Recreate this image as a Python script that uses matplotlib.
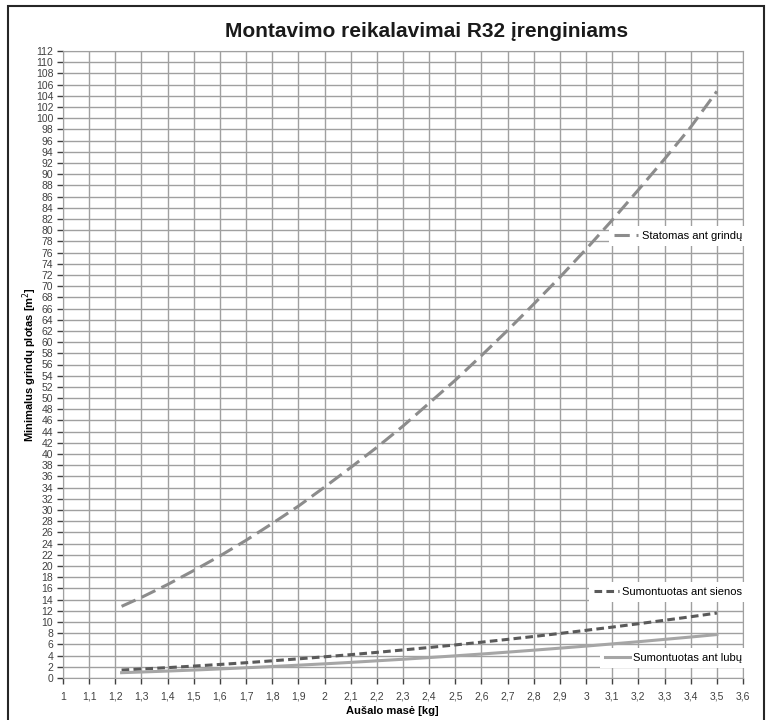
import matplotlib.pyplot as plt
from matplotlib.patches import Rectangle

plt.rcParams['font.family'] = ['Liberation Sans', 'DejaVu Sans']

# Duomenys (nuskaityta nuo grafiko)
mase = [1.224, 1.3, 1.4, 1.5, 1.6, 1.7, 1.8, 1.9, 2.0, 2.1, 2.2, 2.3,
        2.4, 2.5, 2.6, 2.7, 2.8, 2.9, 3.0, 3.1, 3.2, 3.3, 3.4, 3.5]
grindys = [12.8, 14.4, 16.7, 19.2, 21.8, 24.6, 27.6, 30.7, 34.1, 37.6, 41.2, 45.0,
           49.1, 53.2, 57.6, 62.1, 66.8, 71.6, 76.6, 81.8, 87.2, 92.7, 98.4, 104.8]
siena = [1.42, 1.60, 1.85, 2.13, 2.42, 2.73, 3.07, 3.42, 3.79, 4.17, 4.58, 5.01,
         5.45, 5.91, 6.40, 6.90, 7.42, 7.96, 8.52, 9.09, 9.69, 10.31, 10.94, 11.6]
lubos = [0.95, 1.07, 1.24, 1.42, 1.62, 1.83, 2.05, 2.29, 2.53, 2.79, 3.07, 3.35,
         3.65, 3.96, 4.28, 4.62, 4.97, 5.33, 5.70, 6.09, 6.48, 6.90, 7.32, 7.76]

x_ticks = [1 + i / 10 for i in range(27)]
y_ticks = list(range(0, 113, 2))

fig = plt.figure(figsize=(7.73, 7.2), dpi=100)
ax = fig.add_axes([63 / 773, 1 - 678 / 720, 680 / 773, 627 / 720])

# isorinis remelis (apacia nukirpta kaip originale)
fig.patches.append(Rectangle((8 / 773, -0.02), 756 / 773, 1.012,
                             transform=fig.transFigure, fill=False,
                             edgecolor='#262626', linewidth=1.5))

l1, = ax.plot(mase, grindys, color='#8c8c8c', lw=2.2, dashes=(5, 2.2),
              label='Statomas ant grindų')
l2, = ax.plot(mase, siena, color='#5a5a5a', lw=2.2, dashes=(2.5, 1.4),
              label='Sumontuotas ant sienos')
l3, = ax.plot(mase, lubos, color='#a6a6a6', lw=2.2,
              label='Sumontuotas ant lubų')

ax.set_xlim(1, 3.6)
ax.set_ylim(0, 112)
ax.set_xticks(x_ticks)
ax.set_xticklabels([('%g' % t).replace('.', ',') for t in x_ticks])
ax.set_yticks(y_ticks)
ax.tick_params(labelsize=7.5, colors='#404040', length=4, width=1, pad=3)
ax.tick_params(axis='x', pad=6)
ax.grid(True, color='#a0a0a0', linewidth=1)
ax.set_axisbelow(True)
for s in ax.spines.values():
    s.set_color('#a0a0a0')

ax.set_title('Montavimo reikalavimai R32 įrenginiams', fontsize=15,
             fontweight='bold', color='#1a1a1a', pad=10, x=0.535)
ax.set_xlabel('Aušalo masė [kg]', fontsize=8, fontweight='bold')
ax.set_ylabel('Minimalus grindų plotas [m$^2$]', fontsize=8, fontweight='bold')
ax.xaxis.set_label_coords(0.484, -0.044)
ax.yaxis.set_label_coords(-0.035, 0.5)

# legendos irasai atskirai
for line, yy in [(l1, 0.705), (l2, 0.137), (l3, 0.032)]:
    leg = ax.legend(handles=[line], loc='center right', bbox_to_anchor=(1.006, yy),
                    fontsize=8, frameon=True, facecolor='white', edgecolor='none',
                    framealpha=1, fancybox=False, handlelength=2.2,
                    handletextpad=0.3, borderpad=0.45, borderaxespad=0)
    ax.add_artist(leg)

plt.savefig('out.png', dpi=100)
